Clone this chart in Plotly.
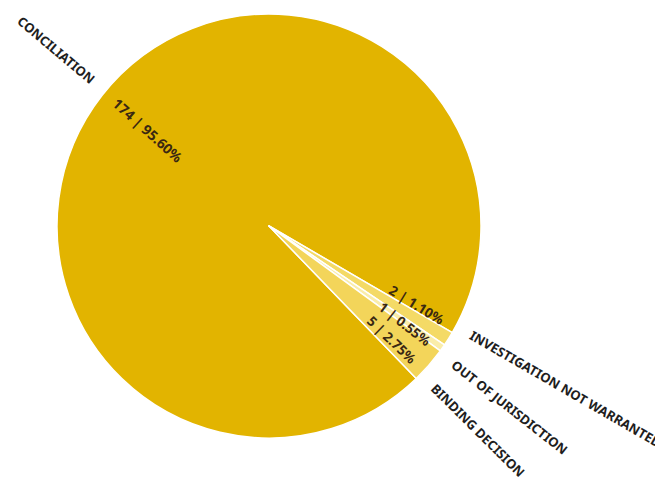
import math
import plotly.graph_objects as go

# Complaint outcomes
categories = ["CONCILIATION", "INVESTIGATION NOT WARRANTED", "OUT OF JURISDICTION", "BINDING DECISION"]
counts = [174, 2, 1, 5]
percent_labels = ["95.60%", "1.10%", "0.55%", "2.75%"]

# Layout geometry (pixels)
W, H = 655, 479
CX, CY, R = 269, 226, 212
ROTATION = 136

slice_colors = ["#E2B400", "#F4DA66", "#FAEDAA", "#F3D55A"]
name_color = "#1E1E1E"
value_color = "#3A2812"
FONT = "'Noto Sans', 'Open Sans', sans-serif"

# Label placement tweaks so the thin slices' labels don't collide
value_nudge = [0.3, -4.1, 0.7, 1.8]
value_radius = [0.727, 0.79, 0.79, 0.79]
value_tilt = [3.5, 3.5, 2.2, 0.8]
name_nudge = [1.5, -4.1, 1.5, 3.3]
name_tilt = [0.5, 2.0, 1.5, 0.4]

total = sum(counts)


def to_paper(px, py):
    return px / W, 1 - py / H


def mid_angle(i):
    """Screen angle (deg, clockwise from +x) of the middle of slice i."""
    before = sum(counts[:i])
    cw_from_top = ROTATION + 360 * (before + counts[i] / 2) / total
    return (cw_from_top - 90) % 360


def reading_angle(theta):
    t = theta % 360
    return t - 180 if 90 < t < 270 else (t if t <= 90 else t - 360)


fig = go.Figure(
    go.Pie(
        labels=categories,
        values=counts,
        sort=False,
        direction="clockwise",
        rotation=ROTATION,
        marker=dict(colors=slice_colors, line=dict(color="white", width=1.5)),
        textinfo="none",
        hoverinfo="label+value+percent",
        showlegend=False,
        domain=dict(x=[(CX - R) / W, (CX + R) / W], y=[1 - (CY + R) / H, 1 - (CY - R) / H]),
    )
)

annotations = []
for i, cat in enumerate(categories):
    # value label inside the slice, written along the radius
    th = mid_angle(i) + value_nudge[i]
    d = value_radius[i] * R
    px = CX + d * math.cos(math.radians(th))
    py = CY + d * math.sin(math.radians(th))
    x, y = to_paper(px, py)
    annotations.append(dict(
        x=x, y=y, xref="paper", yref="paper", showarrow=False,
        xanchor="center", yanchor="middle",
        text=f"{counts[i]} | {percent_labels[i]}",
        textangle=reading_angle(th) + value_tilt[i],
        font=dict(family=FONT, size=14 if i == 0 else 13.5, color=value_color, weight="bold"),
    ))

    # category name outside the pie
    th = mid_angle(i) + name_nudge[i]
    ang = reading_angle(th) + name_tilt[i]
    if i == 0:
        d = R + 64
        px = CX + d * math.cos(math.radians(th))
        py = CY + d * math.sin(math.radians(th))
        x, y = to_paper(px, py)
        annotations.append(dict(
            x=x, y=y, xref="paper", yref="paper", showarrow=False,
            xanchor="center", yanchor="middle", text=cat, textangle=ang,
            font=dict(family=FONT, size=13, color=name_color, weight="bold"),
        ))
    else:
        d = R + 14
        sx = CX + d * math.cos(math.radians(th))
        sy = CY + d * math.sin(math.radians(th))
        a = math.radians(ang)
        h = 19
        # top-left corner of the text box, then the rotated box's left/top
        tlx = sx + h / 2 * math.sin(a)
        tly = sy - h / 2 * math.cos(a)
        x, _ = to_paper(tlx - h * math.sin(a), 0)
        _, y = to_paper(0, tly)
        annotations.append(dict(
            x=x, y=y, xref="paper", yref="paper", showarrow=False,
            xanchor="left", yanchor="top", text=cat, textangle=ang,
            font=dict(family=FONT, size=13, color=name_color, weight="bold"),
        ))

fig.update_layout(
    width=W, height=H,
    margin=dict(l=0, r=0, t=0, b=0),
    paper_bgcolor="white", plot_bgcolor="white",
    annotations=annotations,
)

fig.write_html("out.html")
